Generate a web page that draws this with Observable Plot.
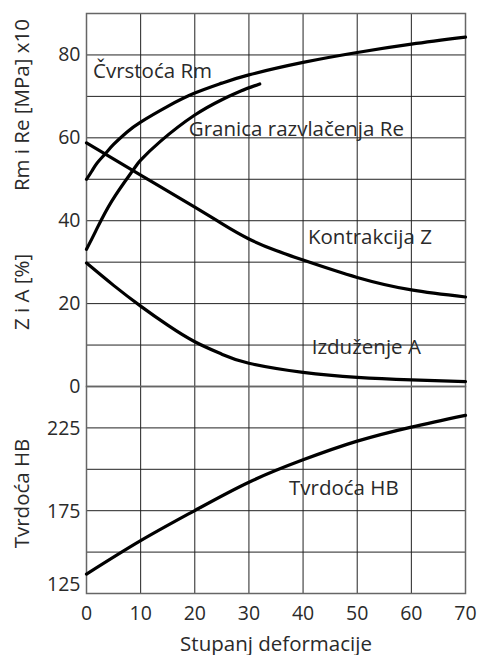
<!DOCTYPE html>
<html>
<head>
<meta charset="utf-8">
<script src="https://cdn.jsdelivr.net/npm/d3@7"></script>
<script src="https://cdn.jsdelivr.net/npm/@observablehq/plot@0.6"></script>
<style>
  html, body { margin: 0; padding: 0; background: #fff; }
  #chart { position: relative; width: 477px; height: 655px; }
  #chart svg { position: absolute; left: 0; background: transparent; overflow: visible; }
</style>
</head>
<body>
<div id="chart"></div>
<script>
// ---- data ----
const deformation = [0, 10, 20, 30, 40, 50, 60, 70]; // x tick labels

// Čvrstoća Rm [MPa] x10
const rmX = [0, 1, 2, 3.5, 5, 7.5, 10, 15, 20, 25, 30, 40, 50, 60, 70];
const rmY = [50, 52, 54, 56.2, 58.4, 61.4, 63.8, 67.6, 70.8, 73.2, 75.2, 78.2, 80.6, 82.6, 84.3];

// Granica razvlačenja Re [MPa] x10
const reX = [0, 1.7, 4.7, 8.6, 10, 13.7, 20, 25, 28.5, 32];
const reY = [33.1, 37.5, 44.8, 52.2, 54.6, 59.2, 65.5, 69.2, 71.3, 73];

// Kontrakcija Z [%]
const zX = [0, 10, 20, 25, 30, 35, 40, 50, 60, 70];
const zY = [58.8, 51, 43.3, 39.3, 35.6, 32.8, 30.5, 26.3, 23.3, 21.6];

// Izduženje A [%]
const aX = [0, 5, 10, 15, 20, 25, 30, 40, 50, 60, 70];
const aY = [29.8, 24.4, 19.4, 14.8, 10.8, 7.8, 5.6, 3.4, 2.2, 1.6, 1.2];

// Tvrdoća HB
const hbX = [0, 10, 20, 30, 40, 50, 60, 70];
const hbY = [136.7, 156.9, 175.1, 192.2, 205.7, 217, 225.5, 232.6];

const topTicks = [0, 20, 40, 60, 80];
const topGrid = [10, 20, 30, 40, 50, 60, 70, 80];
const botTicks = [175, 225];
const botTickLow = [125];
const botGrid = [150, 175, 200, 225];
const xGrid = [10, 20, 30, 40, 50, 60];

const curveLabels = [
  {x: 1.2, y: 76.1, text: "Čvrstoća Rm"},
  {x: 18.9, y: 62.1, text: "Granica razvlačenja Re"},
  {x: 40.9, y: 35.9, text: "Kontrakcija Z"},
  {x: 41.6, y: 9.4, text: "Izduženje A"}
];
const hbLabel = [{x: 37.4, y: 188.2, text: "Tvrdoća HB"}];

const axisTitlesTop = [
  {y: 67.9, text: "Rm i Re [MPa] x10"},
  {y: 22.8, text: "Z i A [%]"}
];
const axisTitlesBot = [{y: 185.4, text: "Tvrdoća HB"}];
const xTitle = ["Stupanj deformacije"];

const toPts = (xs, ys) => xs.map((x, i) => ({x, y: ys[i]}));

const FONT = "'Open Sans', 'Noto Sans', sans-serif";
const FS = 20.5;
const TFS = 19.5;
const INK = "#2a2a2a";
const LINE_W = 3.2;
const GRID = "#222";
const FRAME = "#666";

const common = {
  width: 477,
  marginLeft: 86,
  marginRight: 12,
  style: {fontFamily: FONT, fontSize: FS + "px", color: INK, background: "transparent", overflow: "visible"}
};

const topChart = Plot.plot({
  ...common,
  height: 400,
  marginTop: 13,
  marginBottom: 14,
  x: {domain: [0, 70], axis: null},
  y: {domain: [0, 90], axis: null},
  marks: [
    Plot.ruleY(topGrid, {stroke: GRID, strokeWidth: 1}),
    Plot.ruleX(xGrid, {stroke: GRID, strokeWidth: 1}),
    Plot.frame({stroke: FRAME, strokeWidth: 1.5}),
    Plot.axisY(topTicks, {tickSize: 0, tickPadding: 6, fontSize: TFS, fill: INK, label: null, dy: 0}),
    Plot.line(toPts(rmX, rmY), {x: "x", y: "y", curve: "natural", stroke: "#000", strokeWidth: LINE_W}),
    Plot.line(toPts(reX, reY), {x: "x", y: "y", curve: "natural", stroke: "#000", strokeWidth: LINE_W}),
    Plot.line(toPts(zX, zY), {x: "x", y: "y", curve: "natural", stroke: "#000", strokeWidth: LINE_W}),
    Plot.line(toPts(aX, aY), {x: "x", y: "y", curve: "natural", stroke: "#000", strokeWidth: LINE_W}),
    Plot.text(curveLabels, {x: "x", y: "y", text: "text", textAnchor: "start", fill: INK, fontSize: FS}),
    Plot.text(axisTitlesTop, {y: "y", text: "text", frameAnchor: "left", textAnchor: "middle", dx: -64, rotate: -90, fill: INK, fontSize: FS})
  ]
});
topChart.style.top = "0px";

const bottomChart = Plot.plot({
  ...common,
  height: 283,
  marginTop: 14,
  marginBottom: 62,
  x: {domain: [0, 70], axis: null},
  y: {domain: [125, 250], axis: null},
  marks: [
    Plot.ruleY(botGrid, {stroke: GRID, strokeWidth: 1}),
    Plot.ruleX(xGrid, {stroke: GRID, strokeWidth: 1}),
    Plot.frame({stroke: FRAME, strokeWidth: 1.5}),
    Plot.axisY(botTicks, {tickSize: 0, tickPadding: 6, fontSize: TFS, fill: INK, label: null, dy: 1}),
    Plot.axisY(botTickLow, {tickSize: 0, tickPadding: 6, fontSize: TFS, fill: INK, label: null, dy: -9}),
    Plot.axisX(deformation, {tickSize: 0, tickPadding: 13, fontSize: TFS, fill: INK, label: null}),
    Plot.line(toPts(hbX, hbY), {x: "x", y: "y", curve: "natural", stroke: "#000", strokeWidth: LINE_W}),
    Plot.text(hbLabel, {x: "x", y: "y", text: "text", textAnchor: "start", fill: INK, fontSize: FS}),
    Plot.text(axisTitlesBot, {y: "y", text: "text", frameAnchor: "left", textAnchor: "middle", dx: -64, rotate: -90, fill: INK, fontSize: FS}),
    Plot.text(xTitle, {frameAnchor: "bottom", dy: 57, fill: INK, fontSize: FS})
  ]
});
bottomChart.style.top = "372px";

document.getElementById("chart").append(topChart, bottomChart);
</script>
</body>
</html>
